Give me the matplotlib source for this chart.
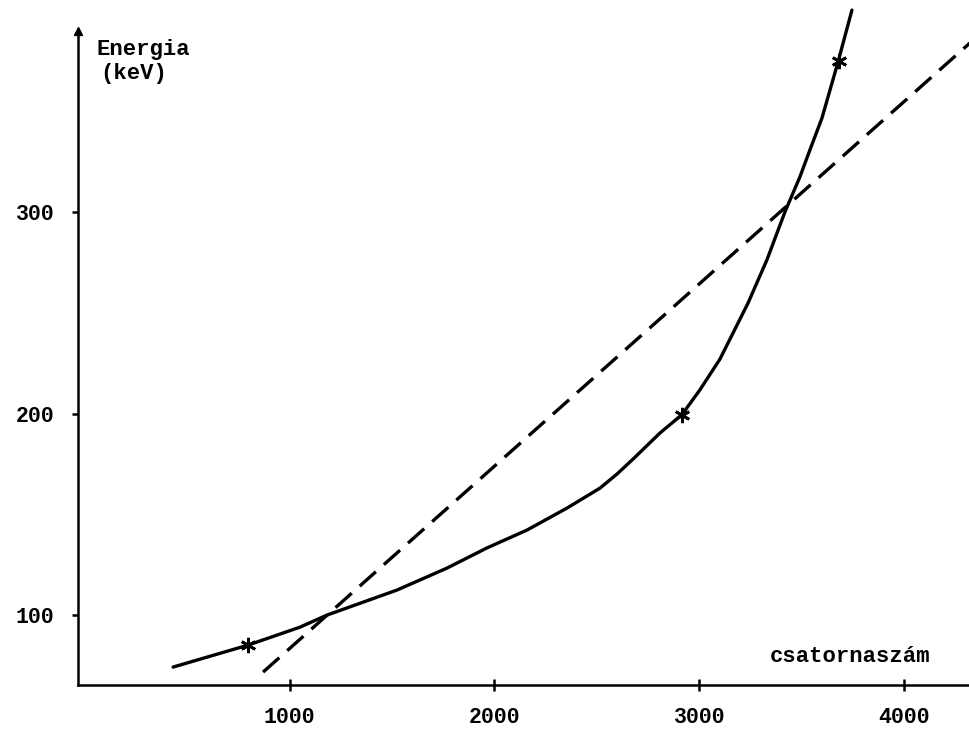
import matplotlib
matplotlib.use("Agg")
import matplotlib.pyplot as plt

# Data
curve_x = [432, 798, 1051, 1183, 1524, 1768, 1963, 2159, 2354, 2515, 2598, 2676, 2807,
           2915, 3002, 3100, 3237, 3329, 3417, 3490, 3539, 3598, 3676, 3744]
curve_y = [74.2, 85.1, 94.0, 100.0, 112.4, 123.3, 133.3, 142.2, 153.1, 163.0, 170.0, 177.4, 190.3,
           199.5, 211.7, 227.0, 254.8, 276.2, 300.0, 317.4, 330.8, 346.7, 374.4, 400.2]
points_x = [798, 2915, 3680]
points_y = [85, 199.5, 375]
linear_x = [871, 4320]
linear_y = [71.7, 383.9]
x_ticks = [1000, 2000, 3000, 4000]
y_ticks = [100, 200, 300]
y_label_lines = ["Energia", "(keV)"]
x_label = "csatornaszám"

W, H = 970, 734
fig = plt.figure(figsize=(W / 100, H / 100), dpi=100)
fig.patch.set_facecolor("white")

ax_left, ax_bottom_px = 78, 685
ax = fig.add_axes([ax_left / W, (H - ax_bottom_px) / H, (W - ax_left) / W, ax_bottom_px / H])
ax.set_xlim(-32, 4320)
ax.set_ylim(65.3, 405.2)
ax.set_facecolor("white")

font = dict(family=["Liberation Mono", "DejaVu Sans Mono"], weight="bold")

ax.plot(curve_x, curve_y, color="black", lw=2.4, solid_capstyle="round",
        solid_joinstyle="round", clip_on=False)
ax.plot(linear_x, linear_y, color="black", lw=2.4, dashes=(6.5, 3.2), clip_on=False)
ax.plot(points_x, points_y, linestyle="none", marker=(6, 2, 0), ms=11, mew=2.0,
        color="black", clip_on=False)

for side in ("top", "right"):
    ax.spines[side].set_visible(False)
ax.spines["left"].set_linewidth(1.8)
ax.spines["bottom"].set_linewidth(1.8)
ax.spines["left"].set_bounds(65.3, 390)

# arrow head at top of the y axis
ax.plot([0], [390], marker="^", ms=6, color="black",
        transform=ax.get_yaxis_transform(), clip_on=False)

ax.set_xticks(x_ticks)
ax.set_yticks(y_ticks)
ax.set_xticklabels([str(v) for v in x_ticks], fontsize=15.5, **font)
ax.set_yticklabels([str(v) for v in y_ticks], fontsize=15.5, **font)
ax.tick_params(axis="x", direction="inout", length=8, width=1.8, pad=12)
ax.tick_params(axis="y", direction="out", length=4, width=1.8, pad=13)

fig.text(97 / W, 1 - 55 / H, y_label_lines[0], fontsize=16, va="baseline", ha="left", **font)
fig.text(100 / W, 1 - 79 / H, y_label_lines[1], fontsize=16, va="baseline", ha="left", **font)
fig.text(770 / W, 1 - 662 / H, x_label, fontsize=16, va="baseline", ha="left", **font)

fig.savefig("out.png", dpi=100, facecolor="white")
